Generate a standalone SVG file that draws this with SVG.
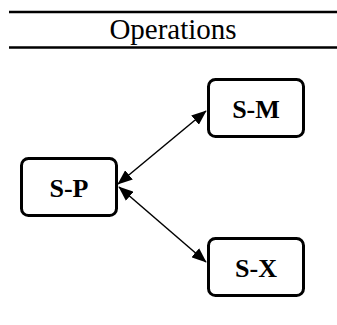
<svg xmlns="http://www.w3.org/2000/svg" width="337" height="325" viewBox="0 0 337 325">
<style>
.rule{stroke:#000;stroke-width:2.5}
.box{fill:#fff;stroke:#000;stroke-width:3}
.lbl{font-family:'Liberation Serif',serif;font-weight:bold;font-size:26px;text-anchor:middle;fill:#000}
.title{font-family:'Liberation Serif',serif;font-size:29px;text-anchor:middle;fill:#000}
.edge{stroke:#000;stroke-width:1.5;fill:none;marker-start:url(#ah);marker-end:url(#ah)}
</style>
<defs>
<marker id="ah" markerWidth="10" markerHeight="8" refX="9.5" refY="4" orient="auto-start-reverse" markerUnits="strokeWidth">
<path d="M0,0 L10,4 L0,8 z" fill="#000"/>
</marker>
</defs>
<g id="header">
<line class="rule" x1="9" y1="12" x2="337" y2="12"/>
<text class="title" x="173" y="38.5">Operations</text>
<line class="rule" x1="9" y1="47.5" x2="337" y2="47.5"/>
</g>
<g id="connectors">
<line class="edge" x1="118" y1="184" x2="206" y2="111"/>
<line class="edge" x1="119" y1="187" x2="206" y2="262"/>
</g>
<g id="S-P">
<rect class="box" x="21.5" y="158.5" width="95" height="57" rx="7"/>
<text class="lbl" x="69" y="196.5">S-P</text>
</g>
<g id="S-M">
<rect class="box" x="208.5" y="79.5" width="95" height="57" rx="7"/>
<text class="lbl" x="256" y="117.5">S-M</text>
</g>
<g id="S-X">
<rect class="box" x="208.5" y="238.5" width="95" height="57" rx="7"/>
<text class="lbl" x="256" y="276.5">S-X</text>
</g>
</svg>
